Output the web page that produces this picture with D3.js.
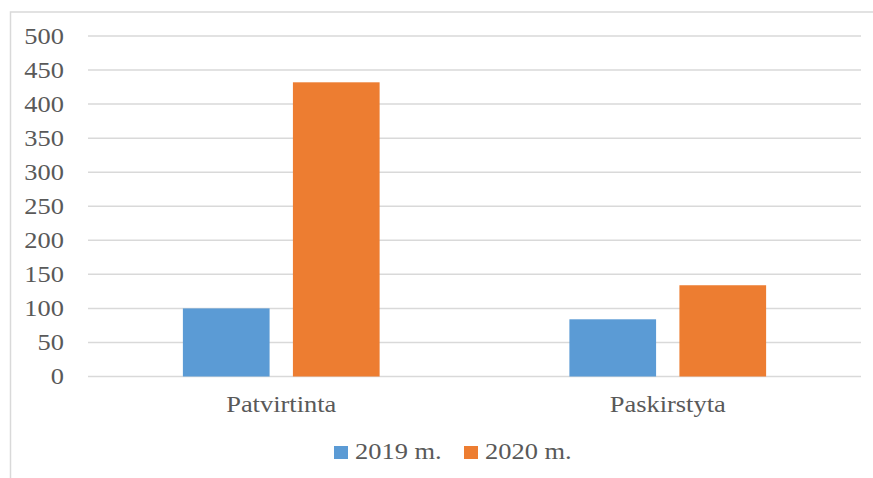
<!DOCTYPE html>
<html>
<head>
<meta charset="utf-8">
<script src="https://cdn.jsdelivr.net/npm/d3@7"></script>
<style>
  body { margin: 0; background: #fff; }
  text { font-family: "Liberation Serif", "Times New Roman", serif; fill: #595959; }
</style>
</head>
<body>
<div id="chart"></div>
<script>

// data
var categories = ["Patvirtinta", "Paskirstyta"];
var seriesNames = ["2019 m.", "2020 m."];
var values2019 = [100, 84];
var values2020 = [432, 134];
var yTicks = [0, 50, 100, 150, 200, 250, 300, 350, 400, 450, 500];
var colors = ["#5B9BD5", "#ED7D31"];

var W = 873, H = 478;
var plot = {left: 88, right: 861, top: 36, bottom: 376.5};
var stretch = 1.15;   // text in the picture is a bit wide
var fontSize = 23;

var svg = d3.select("#chart").append("svg")
    .attr("width", W)
    .attr("height", H);

// outer frame of the chart
svg.append("rect")
    .attr("x", 10.5).attr("y", 12)
    .attr("width", W + 20).attr("height", H + 20)
    .style("fill", "none")
    .style("stroke", "#d9d9d9")
    .style("stroke-width", 1.5);

var y = d3.scaleLinear().domain([0, 500]).range([plot.bottom, plot.top]);

var x0 = d3.scaleBand().domain(categories).range([plot.left, plot.right]);
var groupW = x0.bandwidth() * 0.509;
var x1 = d3.scaleBand().domain(seriesNames)
    .range([(x0.bandwidth() - groupW) / 2, (x0.bandwidth() + groupW) / 2])
    .paddingInner(0.212);

// grid lines
svg.append("g").selectAll("line")
    .data(yTicks)
    .enter().append("line")
    .attr("x1", plot.left).attr("x2", plot.right)
    .attr("y1", function (d) { return y(d) })
    .attr("y2", function (d) { return y(d) })
    .style("stroke", "#d9d9d9")
    .style("stroke-width", 1.5);

// y tick labels
svg.append("g").selectAll("text")
    .data(yTicks)
    .enter().append("text")
    .attr("transform", function (d) {
        return "translate(64," + (y(d) + 7.5) + ") scale(" + stretch + ",1)";
    })
    .attr("text-anchor", "end")
    .style("font-size", fontSize + "px")
    .text(function (d) { return d });

// bars
var rows = categories.map(function (c, i) {
    return {cat: c, vals: [values2019[i], values2020[i]]};
});

var groups = svg.append("g").selectAll("g")
    .data(rows)
    .enter().append("g")
    .attr("transform", function (d) { return "translate(" + x0(d.cat) + ",0)"; });

groups.selectAll("rect")
    .data(function (d) {
        return d.vals.map(function (v, j) { return {name: seriesNames[j], value: v, idx: j}; });
    })
    .enter().append("rect")
    .attr("x", function (d) { return x1(d.name) })
    .attr("width", x1.bandwidth())
    .attr("y", function (d) { return y(d.value) })
    .attr("height", function (d) { return y(0) - y(d.value) })
    .style("fill", function (d) { return colors[d.idx] });

// category labels
svg.append("g").selectAll("text")
    .data(categories)
    .enter().append("text")
    .attr("transform", function (d) {
        return "translate(" + (x0(d) + x0.bandwidth() / 2) + ",412) scale(" + stretch + ",1)";
    })
    .attr("text-anchor", "middle")
    .style("font-size", fontSize + "px")
    .text(function (d) { return d });

// legend
var legendX = [334, 464];
var legend = svg.append("g").selectAll("g")
    .data(seriesNames)
    .enter().append("g")
    .attr("transform", function (d, i) { return "translate(" + legendX[i] + ",0)"; });

legend.append("rect")
    .attr("y", 446)
    .attr("width", 14).attr("height", 13)
    .style("fill", function (d, i) { return colors[i] });

legend.append("text")
    .attr("transform", "translate(21,459) scale(" + stretch + ",1)")
    .style("font-size", fontSize + "px")
    .text(function (d) { return d });

</script>
</body>
</html>
